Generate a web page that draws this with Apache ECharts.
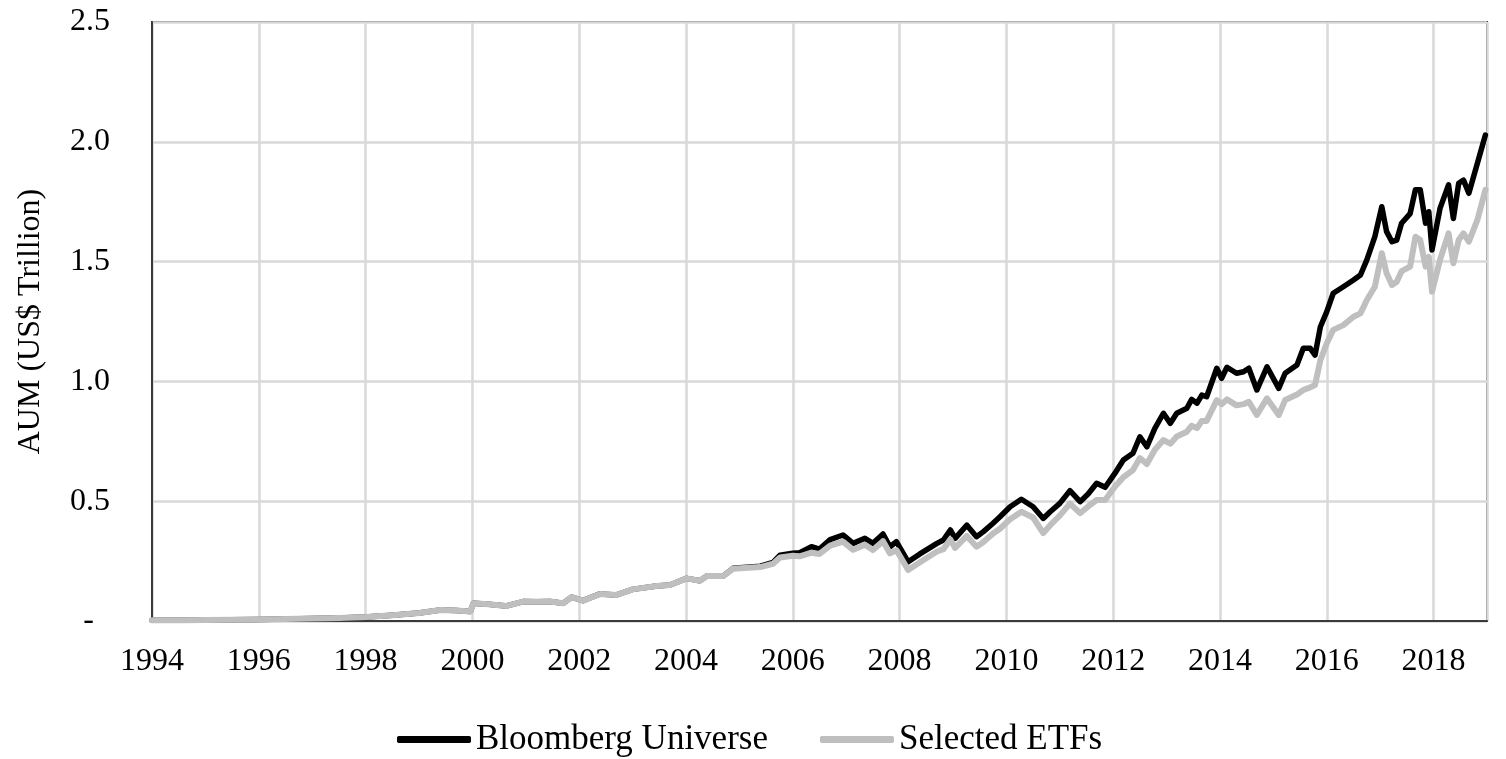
<!DOCTYPE html>
<html>
<head>
<meta charset="utf-8">
<script src="https://cdn.jsdelivr.net/npm/echarts@6/dist/echarts.min.js"></script>
<style>
html,body{margin:0;padding:0;background:#fff;}
#chart{width:1506px;height:759px;}
</style>
</head>
<body>
<div id="chart"></div>
<script>
// Decimal-year dates (x positions of readings)
const dates = [
1994.0,1994.5,1995.0,1995.5,1996.0,1996.5,1997.0,1997.5,1998.0,1998.5,
1999.0,1999.4,1999.7,1999.96,2000.02,2000.3,2000.64,2000.95,2001.2,2001.45,
2001.7,2001.86,2002.07,2002.39,2002.7,2003.0,2003.45,2003.7,2004.01,2004.26,
2004.39,2004.7,2004.88,2005.39,2005.63,2005.76,2006.0,2006.13,2006.35,2006.5,
2006.7,2006.94,2007.13,2007.35,2007.5,2007.69,2007.82,2007.94,2008.16,2008.38,
2008.7,2008.82,2008.95,2009.04,2009.26,2009.44,2009.57,2009.75,2009.88,2010.07,
2010.28,2010.5,2010.69,2010.82,2011.0,2011.19,2011.38,2011.53,2011.69,2011.85,
2012.03,2012.19,2012.37,2012.5,2012.63,2012.78,2012.94,2013.07,2013.19,2013.38,
2013.47,2013.57,2013.66,2013.75,2013.94,2014.03,2014.13,2014.31,2014.44,2014.54,
2014.69,2014.88,2015.1,2015.22,2015.44,2015.56,2015.69,2015.78,2015.88,2016.0,
2016.12,2016.31,2016.5,2016.63,2016.75,2016.9,2017.03,2017.12,2017.22,2017.31,
2017.4,2017.56,2017.66,2017.75,2017.85,2017.91,2017.97,2018.12,2018.28,2018.37,
2018.47,2018.56,2018.66,2018.82,2018.97
];

// AUM, US$ trillion
const bloombergUniverse = [
0.003,0.003,0.004,0.005,0.006,0.008,0.010,0.013,0.017,0.024,
0.033,0.046,0.044,0.040,0.074,0.070,0.063,0.081,0.080,0.081,
0.074,0.100,0.085,0.113,0.109,0.132,0.146,0.150,0.178,0.168,
0.188,0.188,0.220,0.229,0.245,0.275,0.283,0.285,0.310,0.300,
0.340,0.359,0.324,0.345,0.324,0.363,0.310,0.331,0.247,0.280,
0.324,0.338,0.380,0.345,0.400,0.352,0.373,0.408,0.435,0.477,
0.508,0.477,0.428,0.456,0.491,0.544,0.498,0.530,0.575,0.558,
0.616,0.672,0.700,0.769,0.727,0.804,0.867,0.825,0.867,0.888,
0.925,0.909,0.943,0.936,1.055,1.013,1.059,1.034,1.040,1.055,
0.964,1.061,0.971,1.034,1.068,1.138,1.138,1.110,1.228,1.291,
1.368,1.395,1.423,1.444,1.507,1.604,1.729,1.625,1.583,1.590,
1.660,1.700,1.800,1.800,1.660,1.708,1.548,1.722,1.820,1.680,
1.827,1.840,1.785,1.910,2.028
];

const selectedETFs = [
0.003,0.003,0.004,0.005,0.006,0.008,0.010,0.013,0.017,0.024,
0.033,0.046,0.044,0.040,0.074,0.070,0.063,0.081,0.080,0.081,
0.074,0.100,0.085,0.113,0.109,0.132,0.146,0.150,0.178,0.168,
0.188,0.188,0.218,0.225,0.239,0.265,0.272,0.270,0.285,0.280,
0.315,0.331,0.297,0.318,0.296,0.333,0.282,0.296,0.213,0.245,
0.290,0.300,0.340,0.305,0.355,0.310,0.330,0.365,0.385,0.425,
0.456,0.432,0.367,0.400,0.440,0.490,0.450,0.478,0.505,0.505,
0.560,0.600,0.630,0.680,0.655,0.715,0.755,0.740,0.770,0.790,
0.815,0.805,0.835,0.835,0.922,0.905,0.925,0.900,0.905,0.915,
0.860,0.929,0.860,0.922,0.945,0.964,0.975,0.985,1.089,1.159,
1.215,1.235,1.270,1.284,1.340,1.395,1.535,1.451,1.402,1.416,
1.460,1.479,1.604,1.590,1.479,1.520,1.374,1.507,1.618,1.493,
1.590,1.618,1.583,1.674,1.800
];

const seriesNames = ['Bloomberg Universe', 'Selected ETFs'];
const yAxisTitle = 'AUM (US$ Trillion)';
const xMin = 1994, xMax = 2019, xStep = 2;
const yMin = 0, yMax = 2.5, yStep = 0.5;

const FONT = '"Liberation Serif", "Times New Roman", serif';

const chart = echarts.init(document.getElementById('chart'), null, {renderer: 'canvas'});
chart.setOption({
  animation: false,
  backgroundColor: '#ffffff',
  grid: {
    left: 152, right: 19, top: 22, bottom: 138,
    show: true, borderColor: '#3a3a3a', borderWidth: 2, backgroundColor: 'transparent'
  },
  legend: {
    left: 392, top: 717,
    itemWidth: 74, itemHeight: 7, itemGap: 52,
    icon: 'roundRect',
    textStyle: {fontFamily: FONT, fontSize: 35, color: '#000'},
    data: seriesNames
  },
  xAxis: {
    type: 'value', min: xMin, max: xMax, interval: xStep,
    axisLine: {show: true, lineStyle: {color: '#3a3a3a', width: 2}},
    axisTick: {show: false},
    splitLine: {show: true, lineStyle: {color: '#d9d9d9', width: 2.5}},
    axisLabel: {
      margin: 25, fontFamily: FONT, fontSize: 32, color: '#000',
      showMaxLabel: false,
      formatter: v => (v >= xMax ? '' : String(v))
    }
  },
  yAxis: {
    type: 'value', min: yMin, max: yMax, interval: yStep,
    name: yAxisTitle, nameLocation: 'middle', nameGap: 105,
    nameTextStyle: {fontFamily: FONT, fontSize: 32, color: '#000'},
    axisLine: {show: true, lineStyle: {color: '#3a3a3a', width: 2}},
    axisTick: {show: false},
    splitLine: {show: true, lineStyle: {color: '#d9d9d9', width: 2.5}},
    axisLabel: {
      margin: 42, fontFamily: FONT, fontSize: 32, color: '#000',
      formatter: v => (v === 0 ? '-  ' : v.toFixed(1))
    }
  },
  series: [
    {
      name: seriesNames[0], type: 'line', symbol: 'none', showSymbol: false,
      color: '#000000',
      lineStyle: {color: '#000000', width: 5.5, join: 'round', cap: 'round'},
      data: dates.map((d, i) => [d, bloombergUniverse[i]]),
      z: 3
    },
    {
      name: seriesNames[1], type: 'line', symbol: 'none', showSymbol: false,
      color: '#bfbfbf',
      lineStyle: {color: '#bfbfbf', width: 6, join: 'round', cap: 'round'},
      data: dates.map((d, i) => [d, selectedETFs[i]]),
      z: 4
    }
  ]
});
</script>
</body>
</html>
